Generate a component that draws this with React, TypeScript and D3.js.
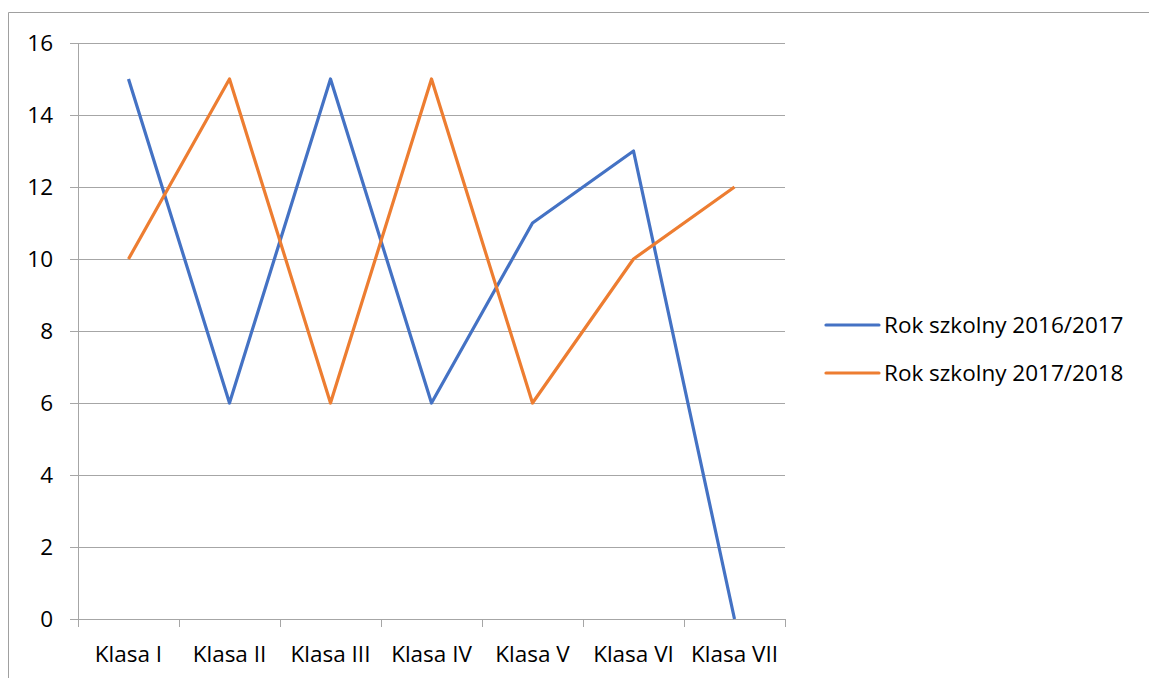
import React from "react";
import * as d3 from "d3";

const categories = ["Klasa I", "Klasa II", "Klasa III", "Klasa IV", "Klasa V", "Klasa VI", "Klasa VII"];
const series2016 = [15, 6, 15, 6, 11, 13, 0];
const series2017 = [10, 15, 6, 15, 6, 10, 12];
const seriesNames = ["Rok szkolny 2016/2017", "Rok szkolny 2017/2018"];
const yTicks = [0, 2, 4, 6, 8, 10, 12, 14, 16];

const W = 1149, H = 678;
const left = 78, right = 785, top = 43, bottom = 619;
const FONT = "'Open Sans', sans-serif";
const FS = 22.5;
const colors = ["#4472C4", "#ED7D31"];

export default function App() {
  const x = d3.scaleBand<string>().domain(categories).range([left, right]);
  const y = d3.scaleLinear().domain([0, 16]).range([bottom, top]);
  const line = d3.line<number>().x((_, i) => (x(categories[i]) as number) + x.bandwidth() / 2).y(d => y(d));
  const grid = "#a6a6a6";
  const allSeries = [series2016, series2017];
  const tickXs = categories.map(c => x(c) as number).concat([right]);
  return (
    <svg width={W} height={H} style={{ position: "absolute", left: 0, top: 0 }}>
      <rect x={0} y={0} width={W} height={H} fill="#fff" />
      <path d={`M8.5,${H} V12.5 H${W}`} fill="none" stroke="#a0a0a0" strokeWidth={1} />
      {yTicks.map(t => (
        <g key={t}>
          <line x1={left - 8} x2={right} y1={Math.round(y(t)) + 0.5} y2={Math.round(y(t)) + 0.5} stroke={grid} strokeWidth={1} />
          <text x={53} y={y(t) + 7.5} textAnchor="end" fontFamily={FONT} fontSize={FS} fill="#000">{t}</text>
        </g>
      ))}
      <line x1={left + 0.5} x2={left + 0.5} y1={top} y2={bottom} stroke={grid} strokeWidth={1} />
      {tickXs.map((tx, i) => (
        <line key={i} x1={Math.round(tx) + 0.5} x2={Math.round(tx) + 0.5} y1={bottom} y2={bottom + 8} stroke={grid} strokeWidth={1} />
      ))}
      {categories.map(c => (
        <text key={c} x={(x(c) as number) + x.bandwidth() / 2} y={662} textAnchor="middle" fontFamily={FONT} fontSize={FS} fill="#000">{c}</text>
      ))}
      {allSeries.map((s, i) => (
        <path key={i} d={line(s) as string} fill="none" stroke={colors[i]} strokeWidth={3.2} strokeLinejoin="round" />
      ))}
      {seriesNames.map((n, i) => (
        <g key={n}>
          <line x1={826} x2={879} y1={325 + i * 48} y2={325 + i * 48} stroke={colors[i]} strokeWidth={3.2} strokeLinecap="round" />
          <text x={884} y={325 + i * 48 + 8} fontFamily={FONT} fontSize={FS} fill="#000">{n}</text>
        </g>
      ))}
    </svg>
  );
}
